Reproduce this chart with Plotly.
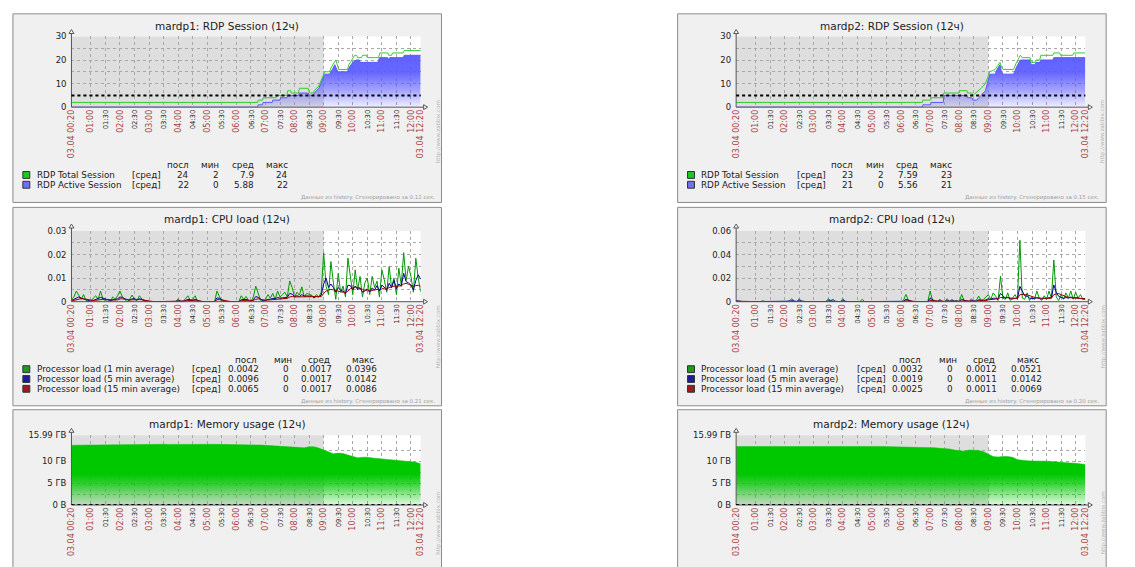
import pandas as pd
import plotly.graph_objects as go

W, H = 1135, 567
DAY = "2015-04-03 "
FONT = "DejaVu Sans"
RED = "#aa4040"
GRID = "#a8a8a8"

T_START, T_END, T_WORK = "00:20", "12:20", "09:00"
date_label = "03.04"

tick_times = ["00:20", "01:00", "01:30", "02:00", "02:30", "03:00", "03:30", "04:00", "04:30",
              "05:00", "05:30", "06:00", "06:30", "07:00", "07:30", "08:00", "08:30", "09:00",
              "09:30", "10:00", "10:30", "11:00", "11:30", "12:00", "12:20"]

# ---------------- RDP sessions ----------------
rdp1_total_t = ["00:20", "06:44", "06:45", "06:54", "06:55", "07:22", "07:23", "07:44", "07:46", "07:52",
                "07:53", "08:08", "08:10", "08:28", "08:31", "08:38", "08:41", "08:50", "08:56", "09:02",
                "09:12", "09:16", "09:22", "09:25", "09:28", "09:31", "09:49", "09:52", "09:58", "10:04",
                "10:08", "10:10", "10:18", "10:20", "10:28", "10:30", "10:53", "10:56", "11:12", "11:14",
                "11:20", "11:22", "11:44", "11:46", "12:20"]
rdp1_total_v = [2, 2, 3, 3, 4, 4, 5, 5, 7, 7,
                6, 6, 8, 8, 6, 6, 7, 9, 12, 15,
                15, 17, 19, 20, 18, 16, 16, 18, 20, 22,
                22, 21, 21, 22, 22, 21, 21, 23, 23, 22,
                22, 23, 23, 24, 24]
rdp1_active_t = ["00:20", "06:44", "06:45", "06:54", "06:55", "07:14", "07:15", "07:30", "07:31", "07:44",
                 "07:46", "08:08", "08:10", "08:28", "08:31", "08:38", "08:41", "08:50", "09:02", "09:12",
                 "09:18", "09:23", "09:27", "09:30", "09:49", "09:53", "10:00", "10:07", "10:14", "10:15",
                 "10:52", "10:55", "11:12", "11:14", "11:16", "11:44", "11:46", "12:20"]
rdp1_active_v = [0, 0, 1, 1, 2, 2, 3, 3, 4, 4,
                 5, 5, 6, 6, 5, 5, 6, 8, 14, 14,
                 16, 18, 16, 15, 15, 17, 19, 20, 20, 19,
                 19, 21, 21, 20, 21, 21, 22, 22]

rdp2_total_t = ["00:20", "06:44", "06:45", "07:01", "07:02", "07:27", "07:28", "07:59", "08:00", "08:16",
                "08:17", "08:26", "08:28", "08:34", "08:45", "08:54", "09:03", "09:14", "09:18", "09:24",
                "09:27", "09:30", "09:52", "09:58", "10:06", "10:10", "10:26", "10:28", "10:36", "10:38",
                "10:46", "10:48", "11:13", "11:15", "11:27", "11:29", "11:54", "11:56", "12:20"]
rdp2_total_v = [2, 2, 3, 3, 4, 4, 6, 6, 7, 7,
                6, 6, 5, 6, 8, 10, 15, 16, 17, 19,
                17, 16, 16, 19, 22, 21, 21, 19, 19, 20,
                20, 22, 22, 23, 23, 22, 22, 23, 23]
rdp2_active_t = ["00:20", "06:44", "06:45", "07:01", "07:02", "07:27", "07:28", "08:16", "08:17", "08:26",
                 "08:28", "08:36", "08:45", "08:54", "09:03", "09:14", "09:18", "09:24", "09:27", "09:30",
                 "09:52", "09:58", "10:06", "10:26", "10:28", "10:36", "10:38", "10:46", "10:48", "11:13",
                 "11:15", "12:20"]
rdp2_active_v = [0, 0, 1, 1, 2, 2, 5, 5, 4, 4,
                 3, 3, 5, 7, 14, 14, 16, 18, 15, 14,
                 14, 17, 20, 20, 18, 18, 19, 19, 20, 20,
                 21, 21]
rdp_trigger = 5

rdp1_stats = [["24", "2", "7.9", "24"], ["22", "0", "5.88", "22"]]
rdp2_stats = [["23", "2", "7.59", "23"], ["21", "0", "5.56", "21"]]
rdp_names = ["RDP Total Session", "RDP Active Session"]

# ---------------- CPU load (5 min samples from 00:20) ----------------
cpu1_1m = [0.0010, 0.0020, 0.0045, 0.0025, 0.0010, 0.0030, 0.0005, 0.0000, 0.0000, 0.0015,
           0.0025, 0.0010, 0.0045, 0.0010, 0.0005, 0.0010, 0.0000, 0.0020, 0.0010, 0.0025,
           0.0045, 0.0020, 0.0010, 0.0000, 0.0010, 0.0028, 0.0010, 0.0005, 0.0025, 0.0010,
           0, 0, 0, 0, 0, 0, 0, 0, 0, 0,
           0, 0, 0, 0, 0.0012, 0, 0, 0.0015, 0.0025, 0.0005,
           0.0010, 0.0025, 0, 0, 0, 0, 0, 0, 0, 0,
           0.0045, 0.0020, 0, 0, 0, 0, 0, 0, 0, 0,
           0.0025, 0.0010, 0.0022, 0.0005, 0, 0.0020, 0.0066, 0.0030, 0.0005, 0,
           0.0010, 0.0030, 0.0015, 0.0035, 0.0010, 0.0045, 0.0020, 0.0030, 0.0040, 0.0020,
           0.0088, 0.0060, 0.0020, 0.0040, 0.0028, 0.0063, 0.0020, 0.0035, 0.0030, 0.0028,
           0.0015, 0.0030, 0.0020, 0.0040, 0.0208, 0.0065, 0.0030, 0.0170, 0.0080, 0.0010,
           0.0120, 0.0040, 0.0066, 0.0020, 0.0185, 0.0107, 0.0030, 0.0135, 0.0050, 0.0107,
           0.0020, 0.0080, 0.0100, 0.0030, 0.0107, 0.0060, 0.0087, 0.0020, 0.0135, 0.0093,
           0.0040, 0.0149, 0.0060, 0.0100, 0.0030, 0.0142, 0.0070, 0.0208, 0.0090, 0.0150,
           0.0107, 0.0040, 0.0184, 0.0100, 0.0042]
cpu1_5m = [0.0005, 0.0010, 0.0018, 0.0020, 0.0015, 0.0012, 0.0010, 0.0005, 0.0002, 0.0005,
           0.0010, 0.0012, 0.0018, 0.0015, 0.0010, 0.0008, 0.0005, 0.0008, 0.0010, 0.0012,
           0.0020, 0.0018, 0.0012, 0.0008, 0.0006, 0.0012, 0.0012, 0.0008, 0.0012, 0.0010,
           0.0005, 0.0002, 0, 0, 0, 0, 0, 0, 0, 0,
           0, 0, 0, 0, 0.0004, 0.0003, 0.0001, 0.0005, 0.0010, 0.0008,
           0.0006, 0.0010, 0.0005, 0.0002, 0, 0, 0, 0, 0, 0,
           0.0016, 0.0014, 0.0008, 0.0003, 0, 0, 0, 0, 0, 0,
           0.0008, 0.0008, 0.0010, 0.0006, 0.0003, 0.0008, 0.0022, 0.0018, 0.0010, 0.0004,
           0.0005, 0.0010, 0.0010, 0.0014, 0.0012, 0.0018, 0.0015, 0.0016, 0.0020, 0.0018,
           0.0035, 0.0032, 0.0022, 0.0025, 0.0022, 0.0030, 0.0024, 0.0025, 0.0026, 0.0024,
           0.0018, 0.0022, 0.0020, 0.0028, 0.0075, 0.0100, 0.0060, 0.0075, 0.0060, 0.0040,
           0.0060, 0.0048, 0.0045, 0.0035, 0.0070, 0.0068, 0.0050, 0.0066, 0.0052, 0.0058,
           0.0040, 0.0045, 0.0055, 0.0042, 0.0058, 0.0050, 0.0068, 0.0045, 0.0070, 0.0062,
           0.0048, 0.0078, 0.0060, 0.0090, 0.0055, 0.0075, 0.0065, 0.0120, 0.0085, 0.0080,
           0.0070, 0.0050, 0.0090, 0.0114, 0.0096]
cpu1_15m = [0.0003, 0.0006, 0.0010, 0.0013, 0.0013, 0.0012, 0.0010, 0.0008, 0.0005, 0.0005,
            0.0006, 0.0008, 0.0010, 0.0010, 0.0009, 0.0008, 0.0006, 0.0006, 0.0007, 0.0008,
            0.0012, 0.0012, 0.0010, 0.0008, 0.0007, 0.0008, 0.0009, 0.0008, 0.0009, 0.0008,
            0.0006, 0.0004, 0.0002, 0.0001, 0, 0, 0, 0, 0, 0,
            0, 0, 0, 0, 0.0002, 0.0002, 0.0002, 0.0003, 0.0005, 0.0005,
            0.0005, 0.0006, 0.0005, 0.0003, 0.0001, 0, 0, 0, 0, 0,
            0.0008, 0.0009, 0.0007, 0.0004, 0.0002, 0.0001, 0, 0, 0, 0,
            0.0004, 0.0005, 0.0006, 0.0006, 0.0004, 0.0005, 0.0010, 0.0012, 0.0010, 0.0007,
            0.0006, 0.0007, 0.0008, 0.0009, 0.0010, 0.0012, 0.0012, 0.0013, 0.0014, 0.0014,
            0.0020, 0.0022, 0.0020, 0.0020, 0.0020, 0.0022, 0.0021, 0.0021, 0.0022, 0.0022,
            0.0020, 0.0020, 0.0020, 0.0022, 0.0035, 0.0045, 0.0050, 0.0052, 0.0050, 0.0046,
            0.0045, 0.0042, 0.0040, 0.0038, 0.0045, 0.0055, 0.0058, 0.0062, 0.0060, 0.0058,
            0.0052, 0.0048, 0.0046, 0.0045, 0.0048, 0.0050, 0.0052, 0.0050, 0.0055, 0.0058,
            0.0056, 0.0060, 0.0062, 0.0066, 0.0065, 0.0066, 0.0068, 0.0075, 0.0078, 0.0074,
            0.0070, 0.0066, 0.0068, 0.0070, 0.0065]

cpu2_1m = [0.0010, 0, 0, 0, 0, 0, 0, 0, 0, 0,
           0, 0.0008, 0, 0, 0, 0, 0, 0, 0, 0,
           0, 0, 0.0010, 0.0025, 0, 0, 0.0025, 0, 0, 0,
           0, 0, 0, 0, 0, 0, 0, 0, 0.0025, 0.0010,
           0.0020, 0, 0, 0, 0.0025, 0, 0, 0, 0, 0,
           0, 0, 0.0020, 0, 0, 0, 0, 0, 0, 0,
           0, 0, 0, 0, 0, 0, 0, 0, 0, 0.0010,
           0.0061, 0.0015, 0, 0, 0, 0, 0, 0, 0, 0,
           0.0090, 0.0010, 0, 0, 0.0020, 0, 0, 0.0025, 0, 0.0020,
           0, 0.0010, 0, 0.0061, 0.0010, 0, 0, 0.0025, 0, 0.0010,
           0.0047, 0.0010, 0.0020, 0.0040, 0.0060, 0.0020, 0.0075, 0.0047, 0.0010, 0.0215,
           0.0030, 0.0020, 0.0075, 0.0010, 0.0030, 0.0060, 0.0020, 0.0521, 0.0030, 0.0020,
           0.0075, 0.0010, 0.0040, 0.0020, 0.0090, 0.0030, 0.0010, 0.0050, 0.0020, 0.0090,
           0.0030, 0.0354, 0.0040, 0.0010, 0.0060, 0.0020, 0.0075, 0.0030, 0.0090, 0.0020,
           0.0080, 0.0030, 0.0060, 0.0020, 0.0032]
cpu2_5m = [0.0008, 0.0004, 0, 0, 0, 0, 0, 0, 0, 0,
           0, 0.0003, 0.0002, 0, 0, 0, 0, 0, 0, 0,
           0, 0, 0.0004, 0.0008, 0.0004, 0.0002, 0.0008, 0.0004, 0, 0,
           0, 0, 0, 0, 0, 0, 0, 0, 0.0008, 0.0006,
           0.0008, 0.0004, 0, 0, 0.0008, 0.0003, 0, 0, 0, 0,
           0, 0, 0.0006, 0.0003, 0, 0, 0, 0, 0, 0,
           0, 0, 0, 0, 0, 0, 0, 0, 0, 0.0003,
           0.0020, 0.0012, 0.0004, 0, 0, 0, 0, 0, 0, 0,
           0.0030, 0.0015, 0.0005, 0.0002, 0.0007, 0.0003, 0, 0.0008, 0.0004, 0.0007,
           0.0003, 0.0004, 0.0002, 0.0020, 0.0012, 0.0005, 0.0002, 0.0008, 0.0004, 0.0004,
           0.0016, 0.0010, 0.0010, 0.0015, 0.0025, 0.0020, 0.0030, 0.0028, 0.0020, 0.0070,
           0.0045, 0.0030, 0.0038, 0.0025, 0.0022, 0.0030, 0.0025, 0.0130, 0.0090, 0.0050,
           0.0045, 0.0030, 0.0028, 0.0025, 0.0035, 0.0030, 0.0022, 0.0028, 0.0025, 0.0035,
           0.0030, 0.0142, 0.0080, 0.0045, 0.0035, 0.0028, 0.0035, 0.0030, 0.0040, 0.0030,
           0.0035, 0.0030, 0.0028, 0.0022, 0.0019]
cpu2_15m = [0.0004, 0.0003, 0.0002, 0, 0, 0, 0, 0, 0, 0,
            0, 0.0001, 0.0001, 0.0001, 0, 0, 0, 0, 0, 0,
            0, 0, 0.0002, 0.0003, 0.0003, 0.0002, 0.0003, 0.0003, 0.0002, 0.0001,
            0, 0, 0, 0, 0, 0, 0, 0, 0.0003, 0.0004,
            0.0004, 0.0003, 0.0002, 0.0002, 0.0003, 0.0002, 0.0001, 0, 0, 0,
            0, 0, 0.0002, 0.0002, 0.0001, 0, 0, 0, 0, 0,
            0, 0, 0, 0, 0, 0, 0, 0, 0, 0.0001,
            0.0008, 0.0008, 0.0006, 0.0004, 0.0002, 0, 0, 0, 0, 0,
            0.0010, 0.0010, 0.0008, 0.0005, 0.0005, 0.0004, 0.0003, 0.0004, 0.0004, 0.0004,
            0.0003, 0.0003, 0.0002, 0.0008, 0.0008, 0.0006, 0.0004, 0.0004, 0.0004, 0.0003,
            0.0008, 0.0008, 0.0008, 0.0010, 0.0015, 0.0018, 0.0022, 0.0025, 0.0025, 0.0035,
            0.0038, 0.0035, 0.0033, 0.0030, 0.0028, 0.0027, 0.0026, 0.0060, 0.0062, 0.0060,
            0.0058, 0.0050, 0.0040, 0.0032, 0.0030, 0.0030, 0.0028, 0.0027, 0.0026, 0.0028,
            0.0030, 0.0060, 0.0066, 0.0069, 0.0060, 0.0050, 0.0042, 0.0035, 0.0033, 0.0032,
            0.0030, 0.0030, 0.0028, 0.0027, 0.0025]

cpu1_stats = [["0.0042", "0", "0.0017", "0.0396"], ["0.0096", "0", "0.0017", "0.0142"],
              ["0.0065", "0", "0.0017", "0.0086"]]
cpu2_stats = [["0.0032", "0", "0.0012", "0.0521"], ["0.0019", "0", "0.0011", "0.0142"],
              ["0.0025", "0", "0.0011", "0.0069"]]
cpu_names = ["Processor load (1 min average)", "Processor load (5 min average)",
             "Processor load (15 min average)"]

# ---------------- Memory usage, GB (10 min samples from 00:20) ----------------
mem1 = [13.70, 13.72, 13.70, 13.75, 13.74, 13.78, 13.80, 13.78, 13.82, 13.85,
        13.83, 13.88, 13.90, 13.88, 13.91, 13.90, 13.92, 13.90, 13.91, 13.93,
        13.90, 13.92, 13.91, 13.93, 13.90, 13.92, 13.91, 13.93, 13.90, 13.92,
        13.91, 13.90, 13.92, 13.90, 13.91, 13.93, 13.92, 13.88, 13.85, 13.75,
        13.68, 13.60, 13.52, 13.45, 13.38, 13.30, 13.20, 13.08, 13.12, 13.38,
        13.35, 13.05, 12.60, 12.05, 11.75, 11.90, 11.80, 11.45, 11.10, 10.82,
        10.95, 10.98, 10.80, 10.70, 10.68, 10.55, 10.40, 10.30, 10.20, 10.10,
        9.95, 9.80, 9.45]
mem2 = [13.40, 13.42, 13.40, 13.43, 13.41, 13.44, 13.42, 13.40, 13.43, 13.41,
        13.44, 13.42, 13.43, 13.41, 13.44, 13.42, 13.40, 13.43, 13.41, 13.44,
        13.42, 13.40, 13.43, 13.41, 13.44, 13.42, 13.43, 13.41, 13.42, 13.44,
        13.42, 13.40, 13.43, 13.41, 13.42, 13.40, 13.38, 13.35, 13.33, 13.30,
        13.25, 13.12, 13.00, 12.95, 12.85, 12.60, 12.45, 12.35, 12.60, 12.62,
        12.50, 12.20, 11.60, 11.10, 11.00, 11.15, 11.10, 10.95, 10.40, 10.20,
        10.15, 10.10, 10.12, 10.05, 10.06, 9.98, 9.85, 9.75, 9.70, 9.62,
        9.58, 9.52, 9.30]
mem_max = 15.99
mem_trigger = 0

footers = ["0.12", "0.15", "0.21", "0.20"]

# ---------------- geometry (pixels) ----------------
COLS = [dict(px0=9, px1=441, ax0=68, ax1=420), dict(px0=679, px1=1111, ax0=738, ax1=1090)]
ROWS = [dict(py0=9, py1=201, ay0=32, ay1=104, ty=21),
        dict(py0=206, py1=408, ay0=230, ay1=302, ty=218),
        dict(py0=412, py1=660, ay0=438, ay1=509, ty=426.5)]


def pxx(x):
    return x / W


def pyy(y):
    return 1 - y / H


def refs(k):
    return ("x" if k == 1 else f"x{k}", "y" if k == 1 else f"y{k}")


def tstamps(lst):
    return [DAY + t for t in lst]


xtick_text = []
for i, t in enumerate(tick_times):
    if i == 0 or i == len(tick_times) - 1:
        xtick_text.append(f"{date_label} {t}")
    elif t.endswith(":00"):
        xtick_text.append(t)
    else:
        xtick_text.append(f'<span style="color:#222222;font-size:6.8px">{t}</span>')

traces, shapes, annotations = [], [], []
layout_axes = {}


def txt(x, y, s, size=8.8, color="#222222", xanchor="left", angle=0):
    annotations.append(dict(x=pxx(x), y=pyy(y), xref="paper", yref="paper", text=s, showarrow=False,
                            xanchor=xanchor, yanchor="middle", textangle=angle,
                            font=dict(family=FONT, size=size, color=color)))


def add_panel(k, row, col, title, ymax, yvals, ytext):
    c, r = COLS[col], ROWS[row]
    xr, yr = refs(k)
    # frame + plot area
    shapes.append(dict(type="rect", xref="paper", yref="paper", x0=pxx(c["px0"]), x1=pxx(c["px1"]),
                       y0=pyy(r["py1"]), y1=pyy(r["py0"]), fillcolor="#f0f0f0",
                       line=dict(color="#8c8c8c", width=1), layer="below"))
    shapes.append(dict(type="rect", xref="paper", yref="paper", x0=pxx(c["ax0"]), x1=pxx(c["ax1"]),
                       y0=pyy(r["ay1"]), y1=pyy(r["ay0"]), fillcolor="#ffffff", line=dict(width=0),
                       layer="below"))
    shapes.append(dict(type="rect", xref=xr, yref=yr + " domain", x0=DAY + T_START, x1=DAY + T_WORK,
                       y0=0, y1=1, fillcolor="#dedede", line=dict(width=0), layer="below"))
    xname = "xaxis" + ("" if k == 1 else str(k))
    yname = "yaxis" + ("" if k == 1 else str(k))
    layout_axes[xname] = dict(domain=[pxx(c["ax0"]), pxx(c["ax1"])], anchor=yr, type="date",
                              range=[DAY + T_START, DAY + T_END], tickmode="array",
                              tickvals=tstamps(tick_times), ticktext=xtick_text, tickangle=-90,
                              tickfont=dict(family=FONT, size=8, color=RED), showgrid=True,
                              gridcolor=GRID, gridwidth=1, griddash="dot", zeroline=False,
                              showline=False, ticks="", fixedrange=True)
    layout_axes[yname] = dict(domain=[pyy(r["ay1"]), pyy(r["ay0"])], anchor=xr, range=[0, ymax],
                              tickmode="array", tickvals=yvals, ticktext=ytext,
                              tickfont=dict(family=FONT, size=8.5, color="#222222"), showgrid=True,
                              gridcolor=GRID, gridwidth=1, griddash="dot", zeroline=False,
                              showline=False, ticks="", ticklabelstandoff=4, fixedrange=True)
    # axis lines with arrows
    ax0, ax1, ay0, ay1 = c["ax0"], c["ax1"], r["ay0"], r["ay1"]
    acol = "#555555"
    shapes.append(dict(type="line", xref="paper", yref="paper", x0=pxx(ax0), x1=pxx(ax0),
                       y0=pyy(ay1), y1=pyy(ay0 - 3), line=dict(color=acol, width=1), layer="above"))
    shapes.append(dict(type="line", xref="paper", yref="paper", x0=pxx(ax0), x1=pxx(ax1 + 3),
                       y0=pyy(ay1), y1=pyy(ay1), line=dict(color=acol, width=1), layer="above"))
    shapes.append(dict(type="path", xref="paper", yref="paper",
                       path=f"M {pxx(ax0 - 2.5)} {pyy(ay0 - 3)} L {pxx(ax0)} {pyy(ay0 - 7)} "
                            f"L {pxx(ax0 + 2.5)} {pyy(ay0 - 3)} Z",
                       fillcolor="#ffffff", line=dict(color=acol, width=1), layer="above"))
    shapes.append(dict(type="path", xref="paper", yref="paper",
                       path=f"M {pxx(ax1 + 3)} {pyy(ay1 - 2.5)} L {pxx(ax1 + 7)} {pyy(ay1)} "
                            f"L {pxx(ax1 + 3)} {pyy(ay1 + 2.5)} Z",
                       fillcolor="#ffffff", line=dict(color=acol, width=1), layer="above"))
    # title
    txt((c["px0"] + c["px1"]) / 2, r["ty"], title, size=10.5, xanchor="center")
    # zabbix url
    yc = [129, 338, 527.5][row]
    txt(c["px1"] - 3, yc, "http://www.zabbix.com", size=5.5, color="#b0b0b0", xanchor="center",
        angle=-90)
    return xr, yr


def add_trigger(k, yval):
    xr, yr = refs(k)
    shapes.append(dict(type="line", xref=xr + " domain", yref=yr, x0=0, x1=1, y0=yval, y1=yval,
                       line=dict(color="#000000", width=2, dash="dot"), layer="above"))


def add_legend(col, rows_y, names, colors, stats, agg_x, header_pos, header_anchor, val_right,
               header_y, footer_y, footer_time):
    dx = COLS[col]["px0"] - 9
    for j, (nm, cl, st) in enumerate(zip(names, colors, stats)):
        y = rows_y[j]
        shapes.append(dict(type="rect", xref="paper", yref="paper", x0=pxx(19 + dx), x1=pxx(26 + dx),
                           y0=pyy(y + 3.5), y1=pyy(y - 3.5), fillcolor=cl,
                           line=dict(color="#333333", width=1), layer="above"))
        txt(31 + dx, y, nm)
        txt(agg_x + dx, y, "[сред]")
        for v, xr_ in zip(st, val_right):
            txt(xr_ + dx, y, v, xanchor="right")
    for h, xp in zip(["посл", "мин", "сред", "макс"], header_pos):
        txt(xp + dx, header_y, h, xanchor=header_anchor)
    txt(436 + dx, footer_y, f"Данные из history. Сгенерировано за {footer_time} сек.", size=5.5,
        color="#a0a0a0", xanchor="right")


# ---------------- build the six graphs ----------------
hosts = ["mardp1", "mardp2"]
rdp_data = [(rdp1_total_t, rdp1_total_v, rdp1_active_t, rdp1_active_v, rdp1_stats),
            (rdp2_total_t, rdp2_total_v, rdp2_active_t, rdp2_active_v, rdp2_stats)]
cpu_data = [(cpu1_1m, cpu1_5m, cpu1_15m, cpu1_stats, 0.03), (cpu2_1m, cpu2_5m, cpu2_15m, cpu2_stats, 0.06)]
mem_data = [mem1, mem2]

cpu_times = pd.date_range(DAY + T_START, periods=len(cpu1_1m), freq="5min")
mem_times = pd.date_range(DAY + T_START, periods=len(mem1), freq="10min")

BLUE = "90,90,255"
for col in range(2):
    # RDP
    k = 1 + col
    xr, yr = add_panel(k, 0, col, f"{hosts[col]}: RDP Session (12ч)", 30,
                       [0, 5, 10, 15, 20, 25, 30], ["0", "", "10", "", "20", "", "30"])
    tt, tv, at, av, st = rdp_data[col]
    traces.append(go.Scatter(x=tstamps(at), y=av, xaxis=xr, yaxis=yr, mode="lines", fill="tozeroy",
                             line=dict(color="#5a5aff", width=1),
                             fillgradient=dict(type="vertical", start=0, stop=30,
                                               colorscale=[[0, f"rgba({BLUE},0.06)"],
                                                           [0.25, f"rgba({BLUE},0.55)"],
                                                           [0.5, f"rgba({BLUE},0.92)"],
                                                           [1, f"rgba({BLUE},1)"]])))
    traces.append(go.Scatter(x=tstamps(tt), y=tv, xaxis=xr, yaxis=yr, mode="lines",
                             line=dict(color="#33cc33", width=1)))
    add_trigger(k, rdp_trigger)
    add_legend(col, [173, 183], rdp_names, ["#1ec81e", "#7070f0"], st, 127.3,
               [188.3, 218.7, 253.7, 288], "right", [188.3, 218.7, 253.7, 288], 163.3, 195.7,
               footers[col])

    # CPU
    k = 3 + col
    c1, c5, c15, cst, cmax = cpu_data[col]
    step = cmax / 6
    xr, yr = add_panel(k, 1, col, f"{hosts[col]}: CPU load (12ч)", cmax,
                       [round(step * i, 4) for i in range(7)],
                       ["0", "", f"{step * 2:g}", "", f"{step * 4:g}", "", f"{cmax:g}"])
    for ser, cl in zip([c1, c5, c15], ["#009900", "#000099", "#990000"]):
        traces.append(go.Scatter(x=cpu_times, y=ser, xaxis=xr, yaxis=yr, mode="lines",
                                 line=dict(color=cl, width=1)))
    add_legend(col, [370.7, 380.7, 390.7], cpu_names, ["#1c9c1c", "#1c1c9c", "#9c1c1c"], cst, 187.3,
               [243.7, 281.3, 317.7, 362], "center", [258.7, 289, 333, 378], 361.7, 404,
               footers[2 + col])

    # Memory
    k = 5 + col
    xr, yr = add_panel(k, 2, col, f"{hosts[col]}: Memory usage (12ч)", mem_max,
                       [0, 2.5, 5, 7.5, 10, 12.5, mem_max],
                       ["0 B", "", "5 ГB", "", "10 ГB", "", f"{mem_max} ГB"])
    traces.append(go.Scatter(x=mem_times, y=mem_data[col], xaxis=xr, yaxis=yr, mode="lines",
                             fill="tozeroy", line=dict(color="rgba(0,200,0,1)", width=0.5),
                             fillgradient=dict(type="vertical", start=0, stop=mem_max,
                                               colorscale=[[0, "rgba(0,200,0,0.08)"],
                                                           [0.15, "rgba(0,200,0,0.4)"],
                                                           [0.3, "rgba(0,200,0,0.75)"],
                                                           [0.45, "rgba(0,200,0,1)"],
                                                           [1, "rgba(0,200,0,1)"]])))
    add_trigger(k, mem_trigger)

fig = go.Figure(traces)
fig.update_layout(width=W, height=H, margin=dict(l=0, r=0, t=0, b=0), paper_bgcolor="#ffffff",
                  plot_bgcolor="rgba(0,0,0,0)", showlegend=False, hovermode=False,
                  font=dict(family=FONT), shapes=shapes, annotations=annotations, **layout_axes)
fig.write_html("out.html", config={"displayModeBar": False},
               post_script="document.body.style.margin='0';document.body.style.overflow='hidden';")
